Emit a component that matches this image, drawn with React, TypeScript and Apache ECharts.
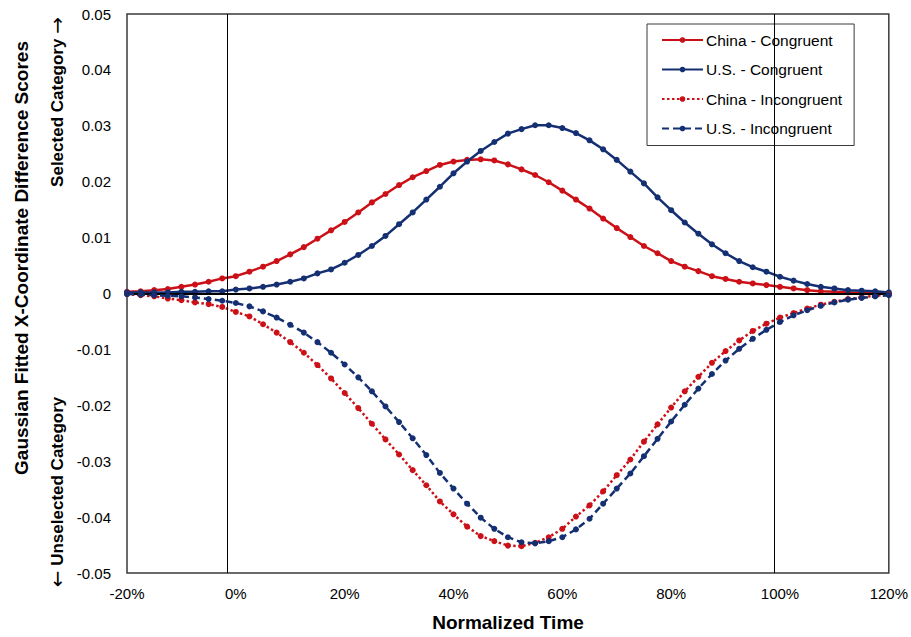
import React, { useEffect, useRef } from "react";
import * as echarts from "echarts";

const xValues = [
  -20, -17.5, -15, -12.5, -10, -7.5, -5, -2.5,
  0, 2.5, 5, 7.5, 10, 12.5, 15, 17.5,
  20, 22.5, 25, 27.5, 30, 32.5, 35, 37.5,
  40, 42.5, 45, 47.5, 50, 52.5, 55, 57.5,
  60, 62.5, 65, 67.5, 70, 72.5, 75, 77.5,
  80, 82.5, 85, 87.5, 90, 92.5, 95, 97.5,
  100, 102.5, 105, 107.5, 110, 112.5, 115, 117.5, 120,
];

const chinaCongruent = [
  0.0003, 0.0004, 0.0006, 0.0008, 0.0012, 0.0016, 0.0021, 0.0027,
  0.0031, 0.0039, 0.0048, 0.0058, 0.007, 0.0083, 0.0098, 0.0113,
  0.0128, 0.0145, 0.0163, 0.0178, 0.0194, 0.0208, 0.0219, 0.023,
  0.0236, 0.0239, 0.024, 0.0238, 0.0231, 0.0222, 0.0212, 0.0199,
  0.0184, 0.0168, 0.0152, 0.0134, 0.0117, 0.0101, 0.0085, 0.0072,
  0.0058, 0.0048, 0.004, 0.0031, 0.0026, 0.0021, 0.0018, 0.0015,
  0.0012, 0.0009, 0.0006, 0.0004, 0.0003, 0.0002, 0.0001, 0.0001, 0.0,
];

const usCongruent = [
  0.0002, 0.0002, 0.0002, 0.0002, 0.0003, 0.0003, 0.0004, 0.0004,
  0.0007, 0.0009, 0.0012, 0.0016, 0.0021, 0.0027, 0.0036, 0.0043,
  0.0055, 0.0069, 0.0085, 0.0103, 0.0124, 0.0145, 0.0168, 0.0191,
  0.0215, 0.0236, 0.0255, 0.0271, 0.0286, 0.0294, 0.0301, 0.0301,
  0.0296, 0.0287, 0.0274, 0.0258, 0.0239, 0.0218, 0.0197, 0.0172,
  0.0149, 0.0127, 0.0107, 0.0088, 0.0072, 0.0058, 0.0047, 0.0039,
  0.003, 0.0023, 0.0017, 0.0012, 0.0009, 0.0006, 0.0005, 0.0004, 0.0002,
];

const chinaIncongruent = [
  -0.0001, -0.0003, -0.0005, -0.0009, -0.0012, -0.0016, -0.0019, -0.0024,
  -0.0033, -0.0041, -0.0055, -0.007, -0.0087, -0.0106, -0.0128, -0.0152,
  -0.0178, -0.0205, -0.0233, -0.0261, -0.0288, -0.0316, -0.0343, -0.0372,
  -0.0395, -0.0417, -0.0434, -0.0443, -0.0451, -0.0452, -0.0446, -0.0436,
  -0.0421, -0.0399, -0.0379, -0.0354, -0.0325, -0.0297, -0.0265, -0.0234,
  -0.0204, -0.0175, -0.0149, -0.0124, -0.0103, -0.0084, -0.0067, -0.0054,
  -0.0043, -0.0035, -0.0027, -0.002, -0.0015, -0.001, -0.0007, -0.0004, -0.0002,
];

const usIncongruent = [
  -0.0001, -0.0002, -0.0003, -0.0004, -0.0005, -0.0007, -0.001, -0.0013,
  -0.0017, -0.0023, -0.0032, -0.0043, -0.0056, -0.007, -0.0087, -0.0106,
  -0.0127, -0.015, -0.0175, -0.0202, -0.023, -0.0259, -0.0289, -0.0321,
  -0.0349, -0.0376, -0.0401, -0.0421, -0.0436, -0.0445, -0.0447, -0.0443,
  -0.0436, -0.0422, -0.0403, -0.0376, -0.0349, -0.0322, -0.0291, -0.026,
  -0.0229, -0.0199, -0.017, -0.0144, -0.012, -0.0099, -0.0081, -0.0065,
  -0.0051, -0.0039, -0.003, -0.0022, -0.0016, -0.0011, -0.0008, -0.0005, -0.0003,
];

const seriesNames = [
  "China - Congruent",
  "U.S. - Congruent",
  "China - Incongruent",
  "U.S. - Incongruent",
];

const referenceLinesX = [-1.5, 99];
const referenceLineY = 0;

const RED = "#CC1018";
const NAVY = "#142F72";
const FONT = "Arial, 'Liberation Sans', sans-serif";

function pairs(ys: number[]) {
  return xValues.map((x, i) => [x, ys[i]]);
}

export default function App() {
  const ref = useRef<HTMLDivElement>(null);

  useEffect(() => {
    if (!ref.current) return;
    const chart = echarts.init(ref.current, undefined, { renderer: "svg" });

    const mkSeries = (
      name: string,
      ys: number[],
      color: string,
      type: any,
      z: number
    ) => ({
      name,
      type: "line",
      data: pairs(ys),
      symbol: "circle",
      symbolSize: 6,
      showSymbol: true,
      z,
      itemStyle: { color },
      lineStyle: { color, width: 2.5, type },
      emphasis: { disabled: true },
    });

    const rich = {
      arr: { fontFamily: "'DejaVu Sans', sans-serif", fontSize: 20, fontWeight: "normal" as any },
    };

    chart.setOption({
      animation: false,
      grid: {
        left: 127,
        right: 22,
        top: 14,
        bottom: 64,
        show: true,
        borderColor: "#3a3a3a",
        borderWidth: 1.5,
        backgroundColor: "#fff",
      },
      xAxis: {
        type: "value",
        min: -20,
        max: 120,
        interval: 20,
        axisLine: { show: false },
        axisTick: { show: false },
        splitLine: { show: false },
        axisLabel: {
          margin: 13,
          fontSize: 15,
          fontFamily: FONT,
          color: "#000",
          formatter: (v: number) => `${Math.round(v)}%`,
        },
      },
      yAxis: {
        type: "value",
        min: -0.05,
        max: 0.05,
        interval: 0.01,
        axisLine: { show: false },
        axisTick: { show: false },
        splitLine: { show: false },
        axisLabel: {
          margin: 16,
          fontSize: 15,
          fontFamily: FONT,
          color: "#000",
          formatter: (v: number) =>
            Math.abs(v) < 1e-9 ? "0" : v.toFixed(2),
        },
      },
      legend: {
        orient: "vertical",
        left: 647,
        top: 24,
        itemWidth: 41,
        itemHeight: 7,
        itemGap: 13.5,
        padding: [8, 12, 9, 14],
        backgroundColor: "#fff",
        borderColor: "#3a3a3a",
        borderWidth: 1,
        borderRadius: 0,
        textStyle: { fontSize: 15.5, fontFamily: FONT, color: "#000", padding: [0, 0, 0, -2] },
        data: seriesNames,
      },
      graphic: [
        {
          type: "text",
          x: 21,
          y: 258,
          rotation: Math.PI / 2,
          style: {
            text: "Gaussian Fitted X-Coordinate Difference Scores",
            font: `bold 19px ${FONT}`,
            align: "center",
            verticalAlign: "middle",
            fill: "#000",
          },
        },
        {
          type: "text",
          x: 57,
          y: 102,
          rotation: Math.PI / 2,
          style: {
            text: "Selected Category {arr|→}",
            font: `bold 17px ${FONT}`,
            rich,
            align: "center",
            verticalAlign: "middle",
            fill: "#000",
          },
        },
        {
          type: "text",
          x: 57,
          y: 492,
          rotation: Math.PI / 2,
          style: {
            text: "{arr|←} Unselected Category",
            font: `bold 17px ${FONT}`,
            rich,
            align: "center",
            verticalAlign: "middle",
            fill: "#000",
          },
        },
        {
          type: "text",
          x: 508,
          y: 622,
          style: {
            text: "Normalized Time",
            font: `bold 19px ${FONT}`,
            align: "center",
            verticalAlign: "middle",
            fill: "#000",
          },
        },
      ],
      series: [
        {
          name: "refs",
          type: "line",
          data: [],
          z: 1,
          silent: true,
          markLine: {
            silent: true,
            symbol: "none",
            label: { show: false },
            animation: false,
            lineStyle: { color: "#000", width: 1, type: "solid" },
            data: [
              ...referenceLinesX.map((x) => ({ xAxis: x })),
              { yAxis: referenceLineY, lineStyle: { color: "#000", width: 2, type: "solid" } },
            ],
          },
        },
        mkSeries(seriesNames[0], chinaCongruent, RED, "solid", 2),
        mkSeries(seriesNames[1], usCongruent, NAVY, "solid", 3),
        mkSeries(seriesNames[2], chinaIncongruent, RED, [2.5, 2.5], 4),
        mkSeries(seriesNames[3], usIncongruent, NAVY, [7, 4], 5),
      ],
    });

    return () => chart.dispose();
  }, []);

  return (
    <div
      ref={ref}
      style={{ position: "absolute", left: 0, top: 0, width: 911, height: 637 }}
    />
  );
}
